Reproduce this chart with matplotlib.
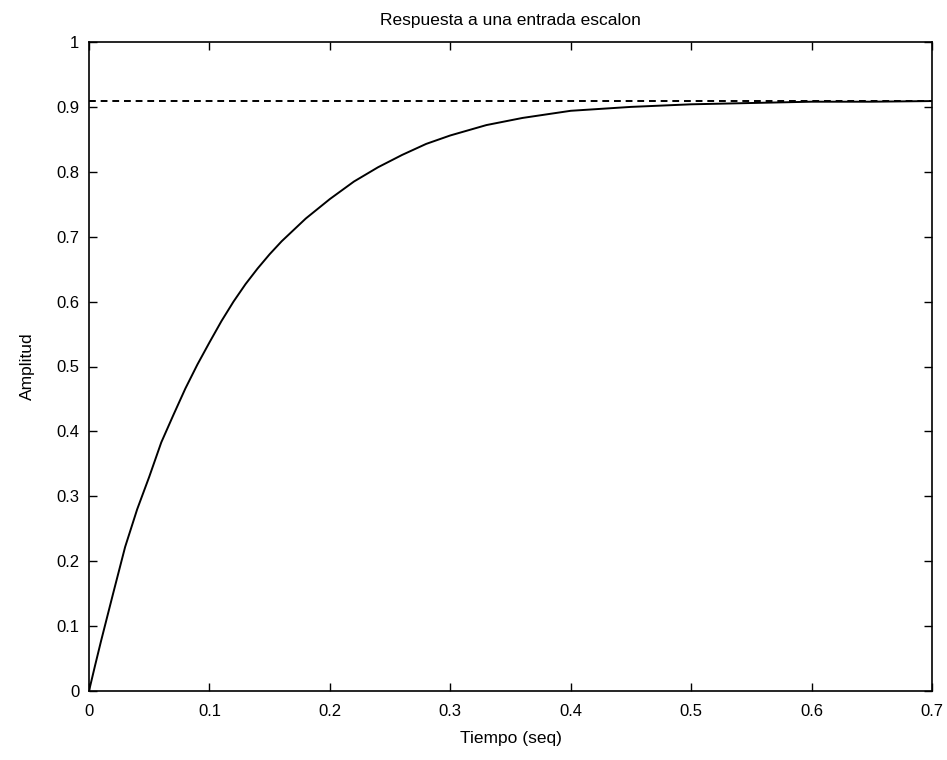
import matplotlib
matplotlib.use("Agg")
import matplotlib.pyplot as plt

# Data
tiempo = [0, 0.005, 0.01, 0.02, 0.03, 0.04, 0.05, 0.06, 0.07, 0.08, 0.09, 0.10,
          0.11, 0.12, 0.13, 0.14, 0.15, 0.16, 0.18, 0.20, 0.22, 0.24, 0.26, 0.28,
          0.30, 0.33, 0.36, 0.40, 0.45, 0.50, 0.55, 0.60, 0.65, 0.70]
amplitud = [0, 0.039, 0.077, 0.150, 0.222, 0.280, 0.330, 0.383, 0.425, 0.466,
            0.503, 0.537, 0.570, 0.600, 0.627, 0.651, 0.673, 0.693, 0.728, 0.758,
            0.785, 0.807, 0.826, 0.843, 0.856, 0.872, 0.883, 0.894, 0.900, 0.904,
            0.906, 0.908, 0.908, 0.909]
valor_final = 0.909
xticks = [0, 0.1, 0.2, 0.3, 0.4, 0.5, 0.6, 0.7]
xticklabels = ["0", "0.1", "0.2", "0.3", "0.4", "0.5", "0.6", "0.7"]
yticks = [0, 0.1, 0.2, 0.3, 0.4, 0.5, 0.6, 0.7, 0.8, 0.9, 1]
yticklabels = ["0", "0.1", "0.2", "0.3", "0.4", "0.5", "0.6", "0.7", "0.8", "0.9", "1"]

plt.rcParams['font.family'] = ['Liberation Sans', 'DejaVu Sans']

fig = plt.figure(figsize=(9.47, 7.6), dpi=100)
ax = fig.add_axes([89/947, 1 - 691/760, (932-89)/947, (691-42)/760])

ax.axhline(valor_final, color='black', linestyle=(0, (3.5, 2.5)), linewidth=1.4)
ax.plot(tiempo, amplitud, color='black', linewidth=1.4)

ax.set_xlim(0, 0.7)
ax.set_ylim(0, 1)
ax.set_xticks(xticks)
ax.set_xticklabels(xticklabels)
ax.set_yticks(yticks)
ax.set_yticklabels(yticklabels)
ax.tick_params(direction='in', top=True, right=True, length=6, width=1,
               labelsize=12, colors='black')
ax.tick_params(axis='x', pad=9)
ax.tick_params(axis='y', pad=7)
for s in ax.spines.values():
    s.set_linewidth(1.2)

ax.set_title("Respuesta a una entrada escalon", fontsize=12.5, pad=12)
ax.set_xlabel("Tiempo (seq)", fontsize=12.5, labelpad=9)
ax.set_ylabel("Amplitud", fontsize=12.5, labelpad=15)

fig.savefig("out.png", dpi=100)
